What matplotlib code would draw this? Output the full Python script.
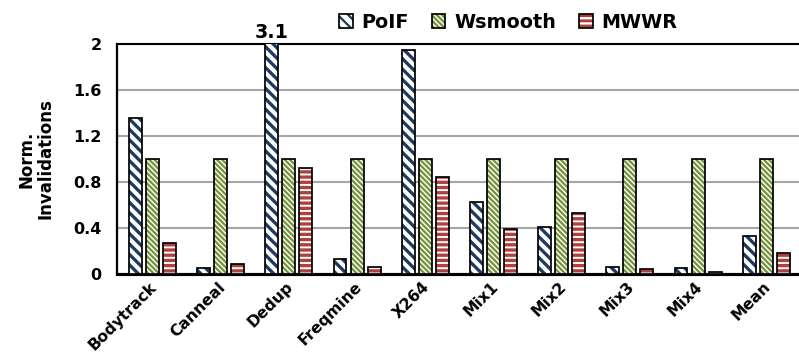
import numpy as np
import matplotlib
matplotlib.use("Agg")
import matplotlib.pyplot as plt
import matplotlib.transforms as mtransforms
from matplotlib.legend_handler import HandlerTuple

categories = ["Bodytrack", "Canneal", "Dedup", "Freqmine", "X264",
              "Mix1", "Mix2", "Mix3", "Mix4", "Mean"]
poif = [1.36, 0.05, 3.1, 0.13, 1.95, 0.63, 0.41, 0.065, 0.05, 0.33]
wsmooth = [1.0, 1.0, 1.0, 1.0, 1.0, 1.0, 1.0, 1.0, 1.0, 1.0]
mwwr = [0.27, 0.085, 0.92, 0.065, 0.84, 0.39, 0.53, 0.04, 0.02, 0.18]
series_names = ["PoIF", "Wsmooth", "MWWR"]
yticks = [0, 0.4, 0.8, 1.2, 1.6, 2.0]
ytick_labels = ["0", "0.4", "0.8", "1.2", "1.6", "2"]
clip_label = "3.1"

DPI = 125
plt.rcParams["font.family"] = ["DejaVu Sans"]
plt.rcParams["font.weight"] = "bold"
plt.rcParams["hatch.linewidth"] = 1.3

fig = plt.figure(figsize=(799 / DPI, 356 / DPI), dpi=DPI)
ax = fig.add_axes([117 / 799, 82 / 356, 682 / 799, 230 / 356])

navy = "#1F3A60"
green = "#76933C"
red = "#B0403E"
# (face, hatch colour, hatch pattern, hatch line width)
styles = [
    ("white", navy, "\\" * 4, 1.9),
    ("white", green, "\\" * 8, 1.3),
    (red, "white", "-" * 4, 1.1),
]


def set_hatch_width(patch, lw):
    if hasattr(patch, "set_hatch_linewidth"):
        patch.set_hatch_linewidth(lw)


x = np.arange(len(categories))
width = 0.19
offsets = [-0.25, 0.0, 0.25]
data = [poif, wsmooth, mwwr]

handles = []
for vals, off, (face, hcol, hatch, hlw) in zip(data, offsets, styles):
    fill = ax.bar(x + off, vals, width, color=face, edgecolor=hcol,
                  hatch=hatch, linewidth=0, zorder=3)
    for p in fill:
        set_hatch_width(p, hlw)
    outline = ax.bar(x + off, vals, width, fill=False, edgecolor="black",
                     linewidth=1.0, zorder=4)
    handles.append((fill, outline))

ax.set_xlim(-0.52, 9.48)
ax.set_ylim(0, 2)
ax.set_yticks(yticks)
ax.set_yticklabels(ytick_labels)
ax.yaxis.grid(True, color="#A6A6A6", linewidth=1.2, zorder=0)
ax.set_axisbelow(True)

ax.tick_params(axis="both", length=0)
ax.tick_params(axis="y", pad=9, labelsize=9.2)
ax.set_xticks(x)
ax.set_xticklabels(categories, rotation=45, ha="right", va="top",
                   rotation_mode="anchor")
ax.tick_params(axis="x", pad=3, labelsize=9.0)
shift = mtransforms.ScaledTranslation(-3 / DPI, 0, fig.dpi_scale_trans)
for lbl in ax.get_xticklabels():
    lbl.set_transform(lbl.get_transform() + shift)

ax.spines["right"].set_visible(False)
ax.spines["top"].set_linewidth(1.2)
ax.spines["left"].set_linewidth(1.3)
ax.spines["bottom"].set_linewidth(1.8)

ax.set_ylabel("Norm.\nInvalidations", fontsize=9.6, fontweight="bold",
              linespacing=1.05)
ax.yaxis.set_label_coords(-0.092, 0.5)

# value of the bar that runs past the top of the axis
ax.annotate(clip_label, xy=(x[2] + offsets[0], 2.0), xytext=(0, 1),
            textcoords="offset points", ha="center", va="bottom",
            fontsize=11, fontweight="bold", annotation_clip=False)

leg = fig.legend(handles, series_names, loc="center",
                 bbox_to_anchor=(0.636, 0.938),
                 ncol=3, frameon=False, fontsize=11,
                 handler_map={tuple: HandlerTuple(ndivide=1)},
                 handlelength=0.72, handleheight=0.72, handletextpad=0.45,
                 columnspacing=1.2)

fig.savefig("out.png", dpi=DPI)
